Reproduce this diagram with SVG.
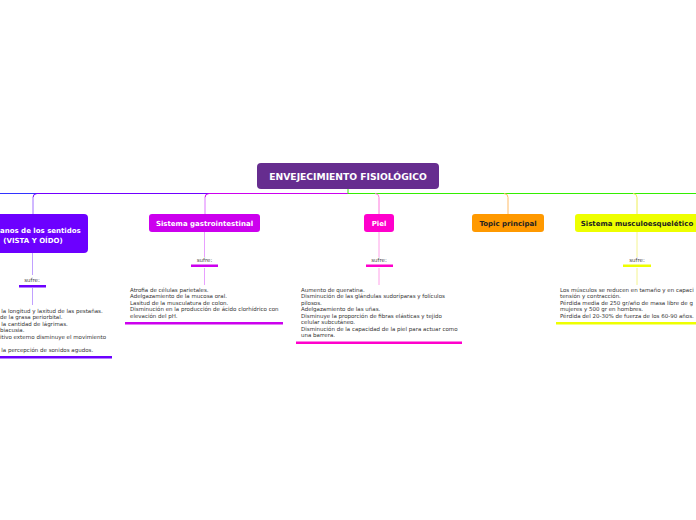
<svg xmlns="http://www.w3.org/2000/svg" width="696" height="520" viewBox="0 0 696 520">
<style>
.title{font-family:"DejaVu Sans",Verdana,sans-serif;font-weight:bold;font-size:9.2px;fill:#fff;text-anchor:middle}
.lbl{font-family:"DejaVu Sans",Verdana,sans-serif;font-weight:bold;font-size:7px;text-anchor:middle}
.w{fill:#fff}
.d{fill:#222}
.sufre{font-family:"DejaVu Sans",Verdana,sans-serif;font-size:5.5px;fill:#444;text-anchor:middle}
.body{font-family:"DejaVu Sans",Verdana,sans-serif;font-size:5.5px;fill:#333}
.ln{fill:none;stroke-width:1}
</style>
<rect width="696" height="520" fill="#fff"/>
<g id="connectors">
  <path class="ln" d="M0 193.5 H348" stroke="#3333ff"/>
  <path class="ln" d="M348 193.5 H37 Q33 193.5 33 197.5" stroke="#7000ff"/>
  <path class="ln" d="M33 197.5 V214" stroke="#a070ff"/>
  <path class="ln" d="M348 193.5 H209 Q205 193.5 205 197.5" stroke="#cc00ee"/>
  <path class="ln" d="M205 197.5 V214" stroke="#dd77ff"/>
  <path class="ln" d="M348 189 V193.5 H696" stroke="#33ee00"/>
  <path class="ln" d="M375 193.5 Q379 193.5 379 197.5 V214" stroke="#ff77dd"/>
  <path class="ln" d="M504 193.5 Q508 193.5 508 197.5 V214" stroke="#ffbb66"/>
  <path class="ln" d="M633 193.5 Q637 193.5 637 197.5 V214" stroke="#eeee55"/>
  <path class="ln" d="M32.5 253 V275" stroke="#c0a0ff"/>
  <path class="ln" d="M32.5 288 V305" stroke="#c0a0ff"/>
  <path class="ln" d="M204.5 232 V257" stroke="#e8a0ff"/>
  <path class="ln" d="M204.5 268 V285" stroke="#e8a0ff"/>
  <path class="ln" d="M379 232 V257" stroke="#ffa0e8"/>
  <path class="ln" d="M379 268 V285" stroke="#ffa0e8"/>
  <path class="ln" d="M637 232 V257" stroke="#f4f490"/>
  <path class="ln" d="M637 268 V285" stroke="#f4f490"/>
</g>
<g id="root">
  <rect x="257" y="163" width="182" height="26" rx="4" fill="#662d8f"/>
  <text class="title" x="348" y="180">ENVEJECIMIENTO FISIOLÓGICO</text>
</g>
<g id="organos">
  <rect x="-22" y="214" width="110" height="39" rx="4" fill="#6c00ff"/>
  <text class="lbl w" x="0" y="233" text-anchor="start" style="text-anchor:start">anos de los sentidos</text>
  <text class="lbl w" x="33" y="242.5">(VISTA Y OÍDO)</text>
  <text class="sufre" x="32" y="282">sufre:</text>
  <rect x="19" y="285" width="27" height="2.5" fill="#6c00ff"/>
  <text class="body" x="1.3" y="312.5">la longitud y laxitud de las pestañas.</text>
  <text class="body" x="0" y="319">de la grasa periorbital.</text>
  <text class="body" x="1.3" y="325.5">la cantidad de lágrimas.</text>
  <text class="body" x="0" y="332">biacusia.</text>
  <text class="body" x="0" y="338.5">itivo externo disminuye el movimiento</text>
  <text class="body" x="1.3" y="351.5">la percepción de sonidos agudos.</text>
  <rect x="0" y="356" width="112" height="2.5" fill="#6c00ff"/>
</g>
<g id="gastro">
  <rect x="149" y="214" width="111" height="18" rx="3" fill="#cc00ee"/>
  <text class="lbl w" x="204.5" y="225.5">Sistema gastrointestinal</text>
  <text class="sufre" x="204.5" y="262">sufre:</text>
  <rect x="191" y="264.5" width="27" height="2.5" fill="#cc00ee"/>
  <text class="body" x="130" y="291.5">Atrofia de células parietales.</text>
  <text class="body" x="130" y="298">Adelgazamiento de la mucosa oral.</text>
  <text class="body" x="130" y="304.5">Lasitud de la musculatura de colon.</text>
  <text class="body" x="130" y="311">Disminución en la producción de ácido clorhídrico con</text>
  <text class="body" x="130" y="317.5">elevación del pH.</text>
  <rect x="125" y="322" width="158" height="2.5" fill="#cc00ee"/>
</g>
<g id="piel">
  <rect x="364" y="214" width="30" height="18" rx="3" fill="#ff00cc"/>
  <text class="lbl w" x="379" y="225.5">Piel</text>
  <text class="sufre" x="379" y="262">sufre:</text>
  <rect x="366" y="264.5" width="27" height="2.5" fill="#ff00cc"/>
  <text class="body" x="301" y="291.5">Aumento de queratina.</text>
  <text class="body" x="301" y="298">Disminución de las glándulas sudoríparas y folículos</text>
  <text class="body" x="301" y="304.5">pilosos.</text>
  <text class="body" x="301" y="311">Adelgazamiento de las uñas.</text>
  <text class="body" x="301" y="317.5">Disminuye la proporción de fibras elásticas y tejido</text>
  <text class="body" x="301" y="324">celular subcutáneo.</text>
  <text class="body" x="301" y="330.5">Disminución de la capacidad de la piel para actuar como</text>
  <text class="body" x="301" y="337">una barrera.</text>
  <rect x="296" y="341.5" width="166" height="2.5" fill="#ff00cc"/>
</g>
<g id="topic">
  <rect x="472" y="214" width="72" height="18" rx="3" fill="#ff9900"/>
  <text class="lbl d" x="508" y="225.5">Topic principal</text>
</g>
<g id="musculo">
  <rect x="575" y="214" width="126" height="18" rx="3" fill="#eeff00"/>
  <text class="lbl d" x="637" y="225.5">Sistema musculoesquelético</text>
  <text class="sufre" x="637" y="262">sufre:</text>
  <rect x="623" y="264.5" width="28" height="2.5" fill="#eeff00"/>
  <text class="body" x="560" y="291.5">Los músculos se reducen en tamaño y en capaci</text>
  <text class="body" x="560" y="298">tensión y contracción.</text>
  <text class="body" x="560" y="304.5">Pérdida media de 250 gr/año de masa libre de g</text>
  <text class="body" x="560" y="311">mujeres y 500 gr en hombres.</text>
  <text class="body" x="560" y="317.5">Pérdida del 20-30% de fuerza de los 60-90 años.</text>
  <rect x="556" y="322" width="145" height="2.5" fill="#eeff00"/>
</g>
</svg>
